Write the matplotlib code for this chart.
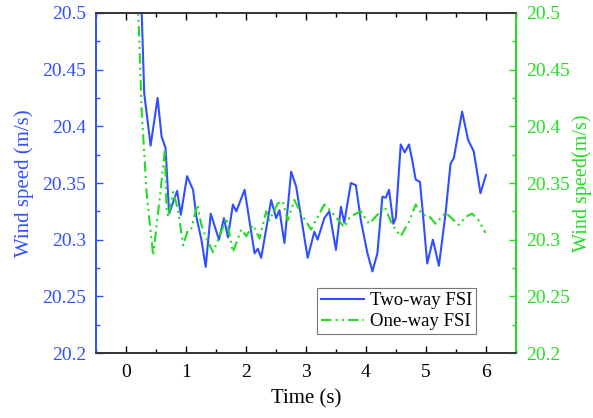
#!/usr/bin/env python

"""
Wind speed time history: two-way vs one-way FSI.
"""

import numpy as np
import matplotlib
matplotlib.use("Agg")
import matplotlib.pyplot as plt
from matplotlib.ticker import MultipleLocator

plt.rcParams['font.family'] = ['Liberation Serif', 'DejaVu Serif']

# values
t_two = [0.25, 0.304, 0.41, 0.527, 0.593, 0.659, 0.719, 0.852, 0.914, 1.018,
         1.118, 1.174, 1.257, 1.329, 1.412, 1.55, 1.633, 1.699, 1.782, 1.839,
         1.977, 2.143, 2.198, 2.254, 2.42, 2.503, 2.558, 2.641, 2.753, 2.836,
         2.919, 3.028, 3.14, 3.194, 3.306, 3.389, 3.5, 3.583, 3.638, 3.749,
         3.832, 3.915, 4.025, 4.108, 4.191, 4.274, 4.331, 4.385, 4.457, 4.497,
         4.58, 4.646, 4.718, 4.772, 4.829, 4.9, 4.939, 5.022, 5.116, 5.216,
         5.327, 5.41, 5.465, 5.603, 5.703, 5.797, 5.909, 6.0]
v_two = [20.52, 20.429, 20.383, 20.425, 20.391, 20.381, 20.323, 20.343, 20.322, 20.356,
         20.344, 20.320, 20.300, 20.276, 20.323, 20.300, 20.319, 20.302, 20.331, 20.325,
         20.344, 20.288, 20.292, 20.284, 20.335, 20.319, 20.326, 20.297, 20.360, 20.347,
         20.320, 20.284, 20.307, 20.300, 20.319, 20.325, 20.291, 20.329, 20.315, 20.350,
         20.348, 20.317, 20.288, 20.272, 20.288, 20.338, 20.337, 20.344, 20.314, 20.319,
         20.384, 20.377, 20.384, 20.370, 20.353, 20.351, 20.329, 20.279, 20.300, 20.277,
         20.323, 20.367, 20.372, 20.413, 20.388, 20.378, 20.341, 20.357]

t_one = [0.18, 0.204, 0.261, 0.344, 0.453, 0.565, 0.648, 0.676, 0.703, 0.786,
         0.869, 0.952, 1.035, 1.09, 1.19, 1.257, 1.34, 1.45, 1.561, 1.672,
         1.782, 1.922, 2.005, 2.115, 2.226, 2.337, 2.39, 2.53, 2.613, 2.696,
         2.807, 2.919, 3.085, 3.306, 3.417, 3.638, 3.721, 3.804, 3.915, 4.053,
         4.191, 4.314, 4.44, 4.58, 4.718, 4.829, 4.939, 5.05, 5.16, 5.327,
         5.548, 5.659, 5.769, 5.88, 5.992]
v_one = [20.54, 20.503, 20.414, 20.341, 20.286, 20.338, 20.379, 20.326, 20.320, 20.342,
         20.326, 20.295, 20.309, 20.310, 20.331, 20.313, 20.301, 20.289, 20.303, 20.319,
         20.289, 20.309, 20.303, 20.313, 20.301, 20.325, 20.317, 20.332, 20.334, 20.317,
         20.335, 20.323, 20.309, 20.331, 20.325, 20.311, 20.319, 20.322, 20.325, 20.314,
         20.322, 20.329, 20.313, 20.303, 20.316, 20.331, 20.322, 20.321, 20.314, 20.324,
         20.313, 20.320, 20.323, 20.317, 20.306]

y_ticks = [20.2, 20.25, 20.3, 20.35, 20.4, 20.45, 20.5]
y_tick_labels = ['20.2', '20.25', '20.3', '20.35', '20.4', '20.45', '20.5']
x_ticks = [0, 1, 2, 3, 4, 5, 6]

BLUE = '#3050ff'
GREEN = '#22dd22'


def main():
    fig = plt.figure(figsize=(5.93, 4.18), dpi=100)
    ax = fig.add_axes([0.1619, 0.1555, 0.7081, 0.8134])
    ax2 = ax.twinx()

    l1, = ax.plot(t_two, v_two, color=BLUE, lw=1.5, label='Two-way FSI')
    l2, = ax2.plot(t_one, v_one, color=GREEN, lw=1.5, linestyle=(0, (5, 2, 1, 2, 1, 2)),
                   label='One-way FSI')

    for a in (ax, ax2):
        a.set_xlim(-0.5, 6.5)
        a.set_ylim(20.2, 20.5)
        a.set_yticks(y_ticks)
        a.set_yticklabels(y_tick_labels)
        a.yaxis.set_minor_locator(MultipleLocator(0.025))

    ax.set_xticks(x_ticks)
    ax.xaxis.set_minor_locator(MultipleLocator(0.5))

    ax.tick_params(axis='x', which='both', direction='in', top=True, bottom=True,
                   labelsize=14, colors='black', pad=8)
    ax.tick_params(axis='x', which='major', length=5, width=1)
    ax.tick_params(axis='x', which='minor', length=3, width=1)
    ax.tick_params(axis='y', which='both', direction='in', colors=BLUE, labelsize=14, pad=7)
    ax.tick_params(axis='y', which='major', length=5, width=1)
    ax.tick_params(axis='y', which='minor', length=3, width=1)
    ax2.tick_params(axis='y', which='both', direction='in', colors=GREEN, labelsize=14, pad=7)
    ax2.tick_params(axis='y', which='major', length=5, width=1)
    ax2.tick_params(axis='y', which='minor', length=3, width=1)

    for a in (ax, ax2):
        a.spines['left'].set_color(BLUE)
        a.spines['right'].set_color(GREEN)
        a.spines['top'].set_color('#333333')
        a.spines['bottom'].set_color('#333333')
        for s in a.spines.values():
            s.set_linewidth(1.2)

    ax.set_xlabel('Time (s)', fontsize=15, labelpad=6)
    ax.set_ylabel('Wind speed (m/s)', fontsize=15, color=BLUE, labelpad=6)
    ax2.set_ylabel('Wind speed(m/s)', fontsize=14.5, color=GREEN, labelpad=2)

    leg = ax2.legend(handles=[l1, l2], loc='lower right', bbox_to_anchor=(0.905, 0.056),
                     borderaxespad=0, fontsize=13.5, fancybox=False, edgecolor='#777777',
                     framealpha=1, handlelength=2.3, handletextpad=0.3,
                     labelspacing=0.2, borderpad=0.2)
    leg.get_frame().set_linewidth(0.8)

    plt.savefig("out.png", dpi=100)


if __name__ == "__main__":
    main()
